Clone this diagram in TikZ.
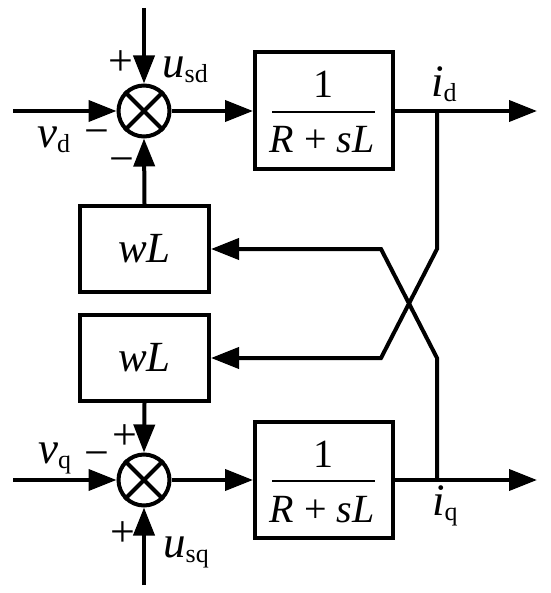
\documentclass[tikz,border=0pt]{standalone}
\usepackage{fontspec}
\setmainfont{Liberation Serif}
\usetikzlibrary{arrows.meta}
\newcommand\vlab[2]{\textit{#1}\raisebox{-5pt}{\fontsize{26}{26}\selectfont #2}}
\begin{document}
\begin{tikzpicture}[x=1pt,y=-1pt,
  wire/.style={line width=4pt},
  arr/.style={wire,-{Triangle[length=28pt,width=21pt]}},
  blk/.style={draw,line width=4pt,rectangle,inner sep=0},
  sumnode/.style={draw,circle,line width=4pt,minimum size=51pt,inner sep=0},
  lab/.style={font=\fontsize{45}{45}\selectfont,inner sep=0},
  frac/.style={font=\fontsize{40}{40}\selectfont,inner sep=0,anchor=base},
  sgn/.style={font=\fontsize{44}{44}\selectfont,inner sep=0,anchor=base}
]
\useasboundingbox (0,0) rectangle (550,593);

% blocks
\node[sumnode] (s1) at (144,111) {};
\node[sumnode] (s2) at (144,480) {};
\node[blk,minimum width=138pt,minimum height=117pt] (b1) at (324,111) {};
\node[blk,minimum width=138pt,minimum height=116pt] (b2) at (324,480) {};
\node[blk,minimum width=129pt,minimum height=86pt,font=\fontsize{43}{43}\selectfont] (w1) at (144.5,249) {\textit{wL}};
\node[blk,minimum width=129pt,minimum height=86pt,font=\fontsize{43}{43}\selectfont] (w2) at (144.5,358) {\textit{wL}};

% crosses in summing junctions
\draw[wire] (s1.north west) -- (s1.south east);
\draw[wire] (s1.north east) -- (s1.south west);
\draw[wire] (s2.north west) -- (s2.south east);
\draw[wire] (s2.north east) -- (s2.south west);

% fractions
\node[frac] (n1) at (323,98) {1};
\node[frac] (d1) at (322,153) {\textit{R} + \textit{sL}};
\coordinate (f1a) at (272,112);
\coordinate (f1b) at (375,112);
\draw[line width=2.5pt] (f1a) -- (f1b);
\node[frac] (n2) at (323,467) {1};
\node[frac] (d2) at (322,522) {\textit{R} + \textit{sL}};
\coordinate (f2a) at (272,481);
\coordinate (f2b) at (375,481);
\draw[line width=2.5pt] (f2a) -- (f2b);

% coordinates
\coordinate (tin) at (144,8);
\coordinate (din) at (13,111);
\coordinate (dout) at (537,111);
\coordinate (qin) at (13,480);
\coordinate (bin) at (144,585);
\coordinate (qout) at (537,480);
\coordinate (jd) at (437,111);
\coordinate (kd1) at (437,249);
\coordinate (kd2) at (381,358);
\coordinate (jq) at (437,480);
\coordinate (kq1) at (437,358);
\coordinate (kq2) at (381,249);

% d-axis
\draw[arr] (tin) -- (s1.north);
\draw[arr] (din) -- (s1.west);
\draw[arr] (s1.east) -- (b1.west);
\draw[arr] (w1.north) -- (s1.south);
\draw[arr] (b1.east) -- (dout);
\draw[arr] (jd) -- (kd1) -- (kd2) -- (w2.east);

% q-axis
\draw[arr] (w2.south) -- (s2.north);
\draw[arr] (qin) -- (s2.west);
\draw[arr] (bin) -- (s2.south);
\draw[arr] (s2.east) -- (b2.west);
\draw[arr] (b2.east) -- (qout);
\draw[arr] (jq) -- (kq1) -- (kq2) -- (w1.east);

% labels
\node[lab,anchor=base west] (usd) at (162,78) {\vlab{u}{sd}};
\node[lab,anchor=base west] (vd) at (37,148) {\vlab{v}{d}};
\node[lab,anchor=base west] (id) at (431,97) {\vlab{i}{d}};
\node[lab,anchor=base west] (vq) at (38,463) {\vlab{v}{q}};
\node[lab,anchor=base west] (usq) at (163,557) {\vlab{u}{sq}};
\node[lab,anchor=base west] (iq) at (432,515) {\vlab{i}{q}};
\node[sgn] (p1) at (121,76) {+};
\node[sgn] (m1) at (97,146) {−};
\node[sgn] (m2) at (122,174) {−};
\node[sgn] (p2) at (125,449) {+};
\node[sgn] (m3) at (97,467) {−};
\node[sgn] (p3) at (123,546) {+};
\end{tikzpicture}
\end{document}
